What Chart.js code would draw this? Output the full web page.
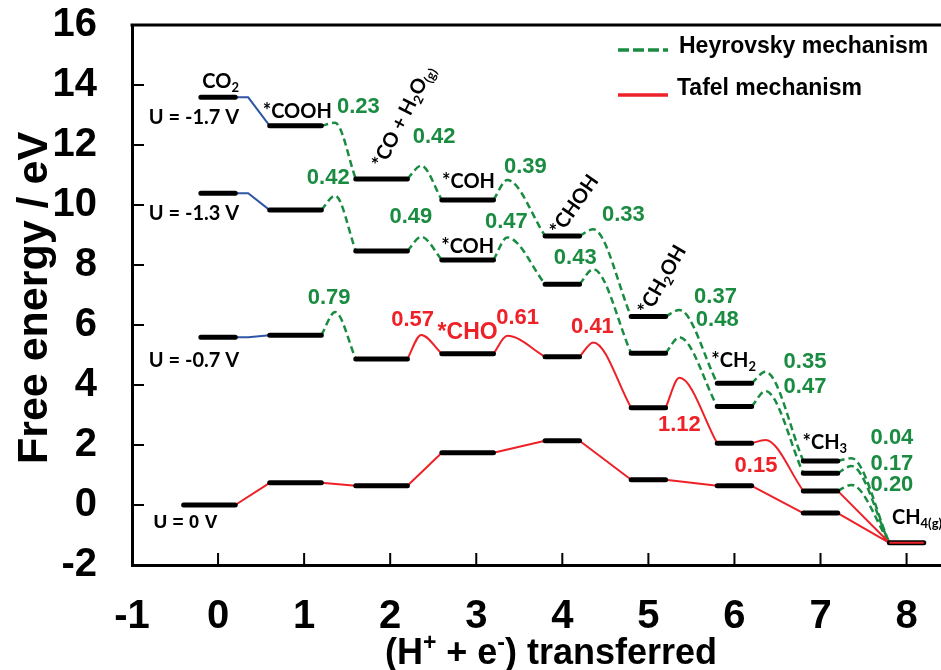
<!DOCTYPE html>
<html>
<head>
<meta charset="utf-8">
<script src="https://cdn.jsdelivr.net/npm/chart.js@4.4.0/dist/chart.umd.min.js"></script>
<style>
  html, body { margin: 0; padding: 0; background: #fff; }
</style>
</head>
<body>
<canvas id="chart" width="941" height="670"></canvas>
<script>
// x ticks / steps
const xTicks = [-1, 0, 1, 2, 3, 4, 5, 6, 7, 8];
const steps = [0, 1, 2, 3, 4, 5, 6, 7, 8];

// free energy of every intermediate (eV), one list per potential
const energyU0 = [0, 0.74, 0.64, 1.74, 2.14, 0.84, 0.64, -0.27, -1.26];
const energyU07 = [5.59, 5.66, 4.87, 5.04, 4.94, 3.24, 2.06, 0.47, -1.26];
const energyU13 = [10.39, 9.83, 8.47, 8.17, 7.36, 5.06, 3.28, 1.06, -1.26];
const energyU17 = [13.59, 12.64, 10.87, 10.17, 8.97, 6.28, 4.06, 1.47, -1.26];

// top of the barrier for step n -> n+1 (null = no barrier drawn)
const peakU0 = [null, null, null, null, null, null, null, null];
const peakU07 = [null, 6.43, 5.67, 5.64, 5.42, 4.24, 2.17, 0.67];
const peakU13 = [null, 10.31, 8.94, 8.92, 7.86, 5.59, 3.8, 1.3];
const peakU17 = [null, 12.74, 11.31, 10.83, 9.19, 6.5, 4.44, 1.56];

// route of each step: B = adsorption, T = Tafel, H = Heyrovsky, TH = both
const routeU0 = ['T', 'T', 'T', 'T', 'T', 'T', 'T', 'T'];
const routeU07 = ['B', 'H', 'T', 'T', 'T', 'T', 'T', 'TH'];
const routeU13 = ['B', 'H', 'H', 'H', 'H', 'H', 'H', 'H'];
const routeU17 = ['B', 'H', 'H', 'H', 'H', 'H', 'H', 'H'];

const potentials = ['U = 0 V', 'U = -0.7 V', 'U = -1.3 V', 'U = -1.7 V'];
const barrierHeyrovsky = ['0.23', '0.42', '0.39', '0.33', '0.37', '0.35', '0.04',
  '0.42', '0.49', '0.47', '0.43', '0.48', '0.47', '0.17', '0.79', '0.20'];
const barrierTafel = ['0.57', '0.61', '0.41', '1.12', '0.15'];

const GREEN = '#198c41';
const RED = '#ee2128';
const BLUE = '#2f56a6';

const series = [
  { energy: energyU0, peak: peakU0, route: routeU0, wideFirst: true },
  { energy: energyU07, peak: peakU07, route: routeU07 },
  { energy: energyU13, peak: peakU13, route: routeU13 },
  { energy: energyU17, peak: peakU17, route: routeU17 },
];

const rightEnd = n => n + 0.2;
const leftEnd = (n, wide) => n - ((n >= 1 && n <= 3) || wide ? 0.4 : 0.2);

const levels = [], blueLines = [], redLines = [], redHumps = [], greenHumps = [];
const gap = (arr) => arr.push({ x: arr[arr.length - 1].x, y: null });
const addSeg = (arr, pts) => { pts.forEach(p => arr.push(p)); gap(arr); };

series.forEach(s => {
  steps.forEach(n => {
    addSeg(levels, [
      { x: leftEnd(n, s.wideFirst && n === 0), y: s.energy[n] },
      { x: rightEnd(n), y: s.energy[n] },
    ]);
  });
  s.route.forEach((r, n) => {
    const a = { x: rightEnd(n), y: s.energy[n] };
    const b = { x: leftEnd(n + 1), y: s.energy[n + 1] };
    const top = { x: rightEnd(n) + 0.16, y: s.peak[n] };
    if (r === 'B') addSeg(blueLines, [a, { x: a.x + 0.15, y: a.y }, b]);
    if (r === 'T' && s.peak[n] === null) addSeg(redLines, [a, b]);
    if (r === 'T' && s.peak[n] !== null) addSeg(redHumps, [a, top, b]);
    if (r === 'H') addSeg(greenHumps, [a, top, b]);
    if (r === 'TH') { addSeg(redLines, [a, b]); addSeg(greenHumps, [a, top, b]); }
  });
});

const finalLevel = [{ x: leftEnd(8), y: energyU0[8] }, { x: rightEnd(8), y: energyU0[8] }];

// text annotations (data coordinates)
const notes = [
  { t: 'CO_{2}', x: 0.03, y: 14.13, c: '#000', k: 'sp' },
  { t: potentials[3], x: -0.28, y: 12.9, c: '#000', k: 'sp' },
  { t: '*COOH', x: 0.92, y: 13.1, c: '#000', k: 'sp' },
  { t: '*CO + H_{2}O_{(g)}', x: 2.15, y: 12.95, c: '#000', k: 'sp', a: -63 },
  { t: '*COH', x: 2.91, y: 10.77, c: '#000', k: 'sp' },
  { t: '*CHOH', x: 4.14, y: 10.0, c: '#000', k: 'sp', a: -55 },
  { t: '*CH_{2}OH', x: 5.16, y: 7.5, c: '#000', k: 'sp', a: -60 },
  { t: potentials[2], x: -0.28, y: 9.73, c: '#000', k: 'sp' },
  { t: '*COH', x: 2.9, y: 8.63, c: '#000', k: 'sp' },
  { t: potentials[1], x: -0.28, y: 4.83, c: '#000', k: 'sp' },
  { t: '*CH_{2}', x: 5.99, y: 4.83, c: '#000', k: 'sp' },
  { t: '*CH_{3}', x: 7.05, y: 2.07, c: '#000', k: 'sp' },
  { t: 'CH_{4(g)}', x: 7.83, y: -0.43, c: '#000', k: 'sp', al: 'left' },
  { t: potentials[0], x: -0.38, y: -0.6, c: '#000', k: 'u0' },
  { t: barrierHeyrovsky[0], x: 1.63, y: 13.27, c: GREEN, k: 'num' },
  { t: barrierHeyrovsky[1], x: 2.51, y: 12.27, c: GREEN, k: 'num' },
  { t: barrierHeyrovsky[2], x: 3.57, y: 11.27, c: GREEN, k: 'num' },
  { t: barrierHeyrovsky[3], x: 4.71, y: 9.67, c: GREEN, k: 'num' },
  { t: barrierHeyrovsky[4], x: 5.78, y: 6.93, c: GREEN, k: 'num' },
  { t: barrierHeyrovsky[5], x: 6.82, y: 4.77, c: GREEN, k: 'num' },
  { t: barrierHeyrovsky[6], x: 7.83, y: 2.23, c: GREEN, k: 'num' },
  { t: barrierHeyrovsky[7], x: 1.28, y: 10.9, c: GREEN, k: 'num' },
  { t: barrierHeyrovsky[8], x: 2.24, y: 9.6, c: GREEN, k: 'num' },
  { t: barrierHeyrovsky[9], x: 3.35, y: 9.43, c: GREEN, k: 'num' },
  { t: barrierHeyrovsky[10], x: 4.15, y: 8.23, c: GREEN, k: 'num' },
  { t: barrierHeyrovsky[11], x: 5.8, y: 6.17, c: GREEN, k: 'num' },
  { t: barrierHeyrovsky[12], x: 6.82, y: 3.93, c: GREEN, k: 'num' },
  { t: barrierHeyrovsky[13], x: 7.83, y: 1.37, c: GREEN, k: 'num' },
  { t: barrierHeyrovsky[14], x: 1.29, y: 6.9, c: GREEN, k: 'num' },
  { t: barrierHeyrovsky[15], x: 7.83, y: 0.67, c: GREEN, k: 'num' },
  { t: barrierTafel[0], x: 2.26, y: 6.17, c: RED, k: 'num' },
  { t: '*CHO', x: 2.9, y: 5.73, c: RED, k: 'cho' },
  { t: barrierTafel[1], x: 3.48, y: 6.23, c: RED, k: 'num' },
  { t: barrierTafel[2], x: 4.35, y: 5.93, c: RED, k: 'num' },
  { t: barrierTafel[3], x: 5.36, y: 2.67, c: RED, k: 'num' },
  { t: barrierTafel[4], x: 6.25, y: 1.3, c: RED, k: 'num' },
];

const fonts = {
  sp: [20, 'Lato, "Liberation Sans", sans-serif'],
  u0: [19, '"Liberation Sans", Arial, sans-serif'],
  num: [22, '"Liberation Sans", Arial, sans-serif'],
  cho: [23, '"Liberation Sans", Arial, sans-serif'],
};

function richParts(str) {
  const parts = [];
  const re = /([_^])\{([^}]*)\}/g;
  let last = 0, m;
  while ((m = re.exec(str))) {
    if (m.index > last) parts.push({ s: str.slice(last, m.index), m: '' });
    parts.push({ s: m[2], m: m[1] });
    last = re.lastIndex;
  }
  if (last < str.length) parts.push({ s: str.slice(last), m: '' });
  return parts;
}

function drawRich(ctx, str, x, y, size, family, color, align, angle) {
  const parts = richParts(str);
  const fontFor = mode => `bold ${mode ? Math.round(size * 0.65) : size}px ${family}`;
  let w = 0;
  parts.forEach(p => { ctx.font = fontFor(p.m); p.w = ctx.measureText(p.s).width; w += p.w; });
  ctx.save();
  ctx.translate(x, y);
  if (angle) ctx.rotate(angle * Math.PI / 180);
  ctx.fillStyle = color;
  ctx.textBaseline = 'middle';
  ctx.textAlign = 'left';
  let cx = align === 'left' ? 0 : -w / 2;
  parts.forEach(p => {
    ctx.font = fontFor(p.m);
    const dy = p.m === '_' ? size * 0.32 : p.m === '^' ? -size * 0.3 : 0;
    ctx.fillText(p.s, cx, dy);
    cx += p.w;
  });
  ctx.restore();
}

const decorations = {
  id: 'decorations',
  afterDraw(chart) {
    const { ctx, chartArea: area, scales: { x, y } } = chart;
    ctx.save();
    // frame top line
    ctx.strokeStyle = '#000';
    ctx.lineWidth = 3;
    ctx.beginPath();
    ctx.moveTo(area.left - 1.5, area.top);
    ctx.lineTo(area.right, area.top);
    ctx.stroke();
    // inward ticks
    ctx.lineWidth = 2;
    ctx.beginPath();
    y.ticks.forEach(t => {
      const py = y.getPixelForValue(t.value);
      ctx.moveTo(area.left, py);
      ctx.lineTo(area.left + 12, py);
    });
    x.ticks.forEach(t => {
      const px = x.getPixelForValue(t.value);
      ctx.moveTo(px, area.bottom);
      ctx.lineTo(px, area.bottom - 12);
    });
    ctx.stroke();

    // annotations
    notes.forEach(n => {
      const [size, fam] = fonts[n.k];
      drawRich(ctx, n.t, x.getPixelForValue(n.x), y.getPixelForValue(n.y), size, fam, n.c, n.al, n.a);
    });

    // legend
    ctx.lineWidth = 3.5;
    ctx.strokeStyle = GREEN;
    ctx.setLineDash([11, 4]);
    ctx.beginPath();
    ctx.moveTo(618, 50);
    ctx.lineTo(668, 50);
    ctx.stroke();
    ctx.setLineDash([]);
    ctx.strokeStyle = RED;
    ctx.beginPath();
    ctx.moveTo(618, 95);
    ctx.lineTo(668, 95);
    ctx.stroke();
    const lf = '"Liberation Sans", Arial, sans-serif';
    drawRich(ctx, 'Heyrovsky mechanism', 679, 47, 23, lf, '#000', 'left');
    drawRich(ctx, 'Tafel mechanism', 677, 89, 23, lf, '#000', 'left');

    // axis titles
    drawRich(ctx, 'Free energy / eV', 35, 298, 43, lf, '#000', 'center', -90);
    drawRich(ctx, '(H^{+} + e^{-}) transferred', 551, 654, 36, lf, '#000', 'center');
    ctx.restore();
  },
};

const tickFont = { family: '"Liberation Sans", Arial, sans-serif', weight: 'bold', size: 40 };

new Chart(document.getElementById('chart'), {
  type: 'line',
  data: {
    datasets: [
      { data: finalLevel, borderColor: RED, borderWidth: 2 },
      { data: levels, borderColor: '#000', borderWidth: 5, borderCapStyle: 'round' },
      { data: blueLines, borderColor: BLUE, borderWidth: 2 },
      { data: redLines, borderColor: RED, borderWidth: 2 },
      { data: redHumps, borderColor: RED, borderWidth: 2, cubicInterpolationMode: 'monotone' },
      { data: greenHumps, borderColor: GREEN, borderWidth: 2.5, borderDash: [7, 4], cubicInterpolationMode: 'monotone' },
    ],
  },
  options: {
    responsive: false,
    animation: false,
    devicePixelRatio: 1,
    spanGaps: false,
    elements: { point: { radius: 0, hoverRadius: 0 }, line: { tension: 0, fill: false } },
    layout: { padding: { top: 25, left: 0, right: 0, bottom: 0 } },
    plugins: { legend: { display: false }, tooltip: { enabled: false } },
    scales: {
      x: {
        type: 'linear',
        min: -1,
        max: 8.4,
        afterBuildTicks: s => { s.ticks = xTicks.map(v => ({ value: v })); },
        afterFit: s => { s.height = 105; s.paddingLeft = 0; s.paddingRight = 0; },
        grid: { display: false, drawTicks: false },
        border: { display: true, width: 3, color: '#000' },
        ticks: { font: tickFont, color: '#000', padding: 28, maxRotation: 0 },
      },
      y: {
        type: 'linear',
        min: -2,
        max: 16,
        afterFit: s => { s.width = 132; s.paddingTop = 25; s.paddingBottom = 0; },
        grid: { display: false, drawTicks: false },
        border: { display: true, width: 3, color: '#000' },
        ticks: { font: tickFont, color: '#000', padding: 35, stepSize: 2 },
      },
    },
  },
  plugins: [decorations],
});
</script>
</body>
</html>
